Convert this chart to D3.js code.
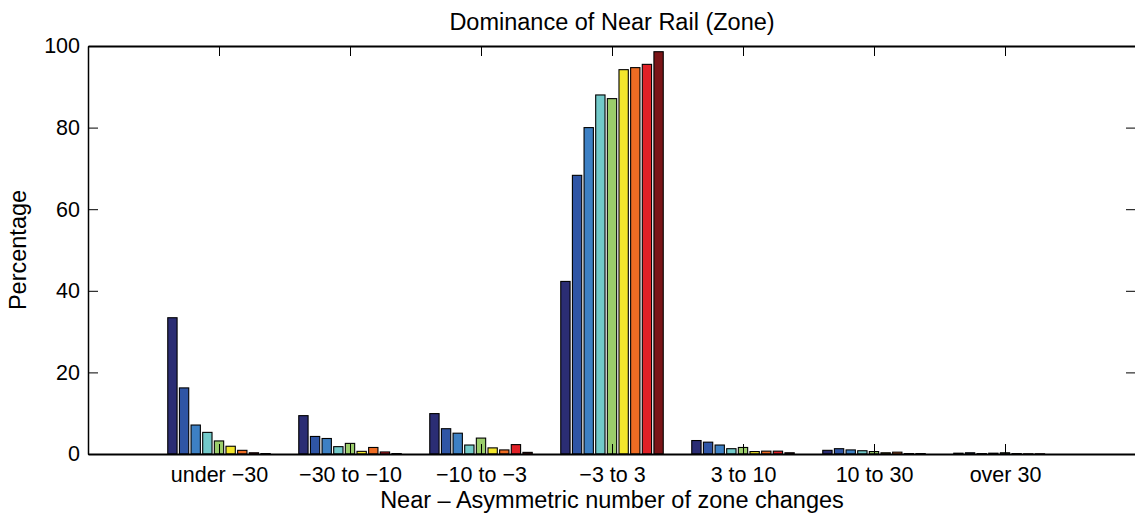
<!DOCTYPE html>
<html>
<head>
<meta charset="utf-8">
<script src="https://cdn.jsdelivr.net/npm/d3@7"></script>
<style>
	body { margin: 0; background: #fff; }
	svg { display: block; font-family: "Liberation Sans", Arial, sans-serif; }
</style>
</head>
<body>
<div id="chart"></div>
<script>
// categories on the x axis
var categories = ['under \u221230', '\u221230 to \u221210', '\u221210 to \u22123', '\u22123 to 3', '3 to 10', '10 to 30', 'over 30'];

// one array per series (9 series), value for each category
var series1 = [33.4, 9.4, 9.9, 42.3, 3.3, 0.9, 0.2];
var series2 = [16.2, 4.3, 6.2, 68.3, 2.9, 1.3, 0.3];
var series3 = [7.1, 3.8, 5.1, 80.0, 2.2, 1.0, 0.1];
var series4 = [5.3, 1.8, 2.2, 88.0, 1.3, 0.8, 0.2];
var series5 = [3.2, 2.6, 3.9, 87.1, 1.6, 0.6, 0.3];
var series6 = [1.9, 0.65, 1.5, 94.2, 0.6, 0.3, 0.1];
var series7 = [0.9, 1.6, 1.0, 94.7, 0.7, 0.45, 0.05];
var series8 = [0.3, 0.5, 2.3, 95.5, 0.7, 0.1, 0.05];
var series9 = [0.1, 0.1, 0.4, 98.6, 0.3, 0.1, 0.0];

var yTicks = [0, 20, 40, 60, 80, 100];

var allSeries = [series1, series2, series3, series4, series5, series6, series7, series8, series9];
var colors = ['#2b2d74', '#2f55a5', '#3d80c4', '#72c9c9', '#9bcd6b', '#f3e62c', '#ee6c23', '#e02127', '#7b1518'];

const width = 1135;
const height = 516;
const margin = {top: 46, right: -1, bottom: 62, left: 88};
const tickFont = '21.5px';
const labelFont = '23.5px';

const svg = d3.select('#chart')
	.append('svg')
	.attr('width', width)
	.attr('height', height);

// group positions 1..7, xlim [0, 8] like matlab
const x = d3.scaleLinear()
	.domain([0, categories.length + 1])
	.range([margin.left, width - margin.right]);

const groupWidth = 0.8 * (x(1) - x(0));
const xInner = d3.scaleBand()
	.domain(d3.range(allSeries.length))
	.range([-groupWidth / 2, groupWidth / 2])
	.paddingInner(0.2)
	.paddingOuter(0.1);

const y = d3.scaleLinear()
	.domain([0, 100])
	.range([height - margin.bottom, margin.top]);

// bars
allSeries.forEach((s, si) => {
	svg.append('g')
		.attr('class', 'bars')
		.selectAll('rect')
		.data(s)
		.enter()
		.append('rect')
		.attr('x', (d, ci) => x(ci + 1) + xInner(si))
		.attr('y', d => y(d))
		.attr('width', xInner.bandwidth())
		.attr('height', d => y(0) - y(d))
		.attr('fill', colors[si])
		.attr('stroke', '#000')
		.attr('stroke-width', 1.1);
});

const tickLen = 10;
const tickVals = d3.range(1, categories.length + 1);

// bottom axis (ticks pointing inward)
const xAxis = g => g
	.attr('transform', `translate(0, ${y(0)})`)
	.call(d3.axisBottom(x).tickValues(tickVals).tickSize(-tickLen).tickSizeOuter(0)
		.tickFormat(d => categories[d - 1]))
	.call(g => g.select('.domain').attr('stroke-width', 2))
	.call(g => g.selectAll('text')
		.attr('dy', 0)
		.attr('y', 28)
		.style('font-size', tickFont)
		.style('fill', '#000'));

// top axis ticks only
const xAxisTop = g => g
	.attr('transform', `translate(0, ${y(100)})`)
	.call(d3.axisTop(x).tickValues(tickVals).tickSize(-tickLen).tickSizeOuter(0).tickFormat(''))
	.call(g => g.select('.domain').attr('stroke-width', 2));

const yAxis = g => g
	.attr('transform', `translate(${margin.left}, 0)`)
	.call(d3.axisLeft(y).tickValues(yTicks).tickSize(-tickLen).tickSizeOuter(0))
	.call(g => g.select('.domain').attr('stroke-width', 1.5))
	.call(g => g.selectAll('text')
		.attr('x', -8)
		.style('font-size', tickFont)
		.style('fill', '#000'));

const yAxisRight = g => g
	.attr('transform', `translate(${width - margin.right}, 0)`)
	.call(d3.axisRight(y).tickValues(yTicks).tickSize(-tickLen).tickSizeOuter(0).tickFormat(''))
	.call(g => g.select('.domain').attr('stroke-width', 1.5));

svg.append('g').call(xAxisTop);
svg.append('g').call(yAxisRight);
svg.append('g').call(yAxis);
svg.append('g').call(xAxis);

// title & labels
const cx = (x.range()[0] + x.range()[1]) / 2;
svg.append('text')
	.attr('x', cx)
	.attr('y', 30)
	.attr('text-anchor', 'middle')
	.style('font-size', labelFont)
	.text('Dominance of Near Rail (Zone)');

svg.append('text')
	.attr('x', cx)
	.attr('y', 508)
	.attr('text-anchor', 'middle')
	.style('font-size', labelFont)
	.text('Near \u2013 Asymmetric number of zone changes');

svg.append('text')
	.attr('transform', `translate(26, ${y(50)}) rotate(-90)`)
	.attr('text-anchor', 'middle')
	.style('font-size', labelFont)
	.text('Percentage');
</script>
</body>
</html>
